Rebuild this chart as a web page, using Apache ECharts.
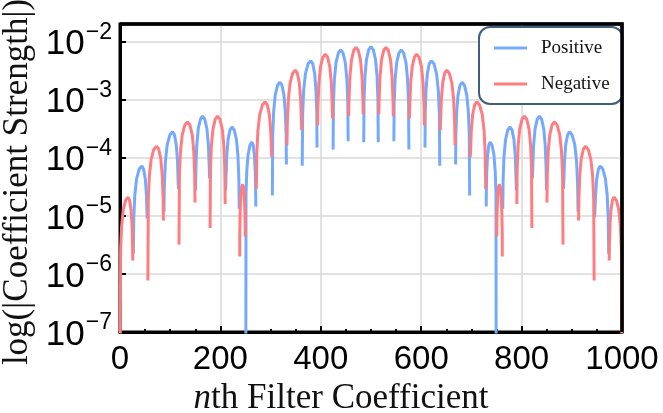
<!DOCTYPE html>
<html><head><meta charset="utf-8">
<script src="https://cdn.jsdelivr.net/npm/echarts@6/dist/echarts.min.js"></script>
<style>html,body{margin:0;padding:0;background:#fff}#c{width:663px;height:413px}</style>
</head><body><div id="c"></div>
<script>
// x ticks and y decade ticks
const xTicks = [0, 200, 400, 600, 800, 1000];
const yTickExponents = [-7, -6, -5, -4, -3, -2];
const seriesNames = ['Positive', 'Negative'];

// each lobe of |h[n]| between two sign changes
const lobeCenter = [16, 43.5, 72.8, 104.7, 134.6, 164.5, 194.4, 223, 244.3, 262.8, 289.3, 318.6, 349.2, 379.9, 409, 439.7, 470.2, 500,
  529.8, 560.3, 591, 620.1, 650.8, 681.4, 710.7, 737.2, 755.7, 777, 805.6, 835.5, 865.4, 895.3, 927.2, 956.5, 984];
const lobePeak = [2.1e-5, 7.2e-5, 1.58e-4, 2.8e-4, 4.15e-4, 5.2e-4, 5.2e-4, 3.4e-4, 3.5e-5, 1.87e-4, 9.2e-4, 2.0e-3, 3.24e-3, 4.7e-3, 6.1e-3, 7.2e-3, 8.0e-3, 8.2e-3,
  8.0e-3, 7.2e-3, 6.1e-3, 4.7e-3, 3.24e-3, 2.0e-3, 9.2e-4, 1.87e-4, 3.5e-5, 3.4e-4, 5.2e-4, 5.2e-4, 4.15e-4, 2.8e-4, 1.58e-4, 7.2e-5, 2.1e-5];
const lobeSign = [-1, 1, -1, 1, -1, 1, -1, 1, -1, 1, -1, 1, -1, 1, -1, 1, -1, 1,
  -1, 1, -1, 1, -1, 1, -1, 1, -1, 1, -1, 1, -1, 1, -1, 1, -1];
// sign-change positions (with the two ends) and the smallest |value| reached there by each sign
const boundaryX = [0, 26, 55, 87, 117, 150, 179, 210, 238, 250, 271, 303, 332, 362.5, 393, 424, 455, 485,
  515, 545, 576, 607, 637.5, 668, 697, 729, 750, 762, 790, 821, 850, 883, 913, 945, 974, 1000];
const dipPos = [null, 2.2e-6, 9.5e-6, 1.16e-5, 2.9e-5, 2.75e-5, 4.4e-5, 2.75e-5, 1.33e-5, 1e-9, 1.45e-5, 2.25e-5, 7.7e-5, 7.3e-5, 1.5e-4, 1.39e-4, 1.93e-4, 1.85e-4,
  1.85e-4, 1.93e-4, 1.39e-4, 1.5e-4, 7.3e-5, 7.7e-5, 2.25e-5, 1.45e-5, 1e-9, 1.33e-5, 2.75e-5, 4.4e-5, 2.75e-5, 2.9e-5, 1.16e-5, 9.5e-6, 2.2e-6, null];
const dipNeg = [1e-9, 1.7e-6, 7.7e-7, 8.3e-6, 3.2e-6, 1.7e-5, 6.2e-6, 1.6e-5, 2.0e-6, 1.16e-5, 2.9e-5, 1.03e-4, 1.64e-4, 3.0e-4, 3.6e-4, 4.75e-4, 5.2e-4, 5.6e-4,
  5.6e-4, 5.2e-4, 4.75e-4, 3.6e-4, 3.0e-4, 1.64e-4, 1.03e-4, 2.9e-5, 1.16e-5, 2.0e-6, 1.6e-5, 6.2e-6, 1.7e-5, 3.2e-6, 8.3e-6, 7.7e-7, 1.7e-6, 1e-9];
// arch shape of one lobe read from the central lobe: [fraction of the way from edge to peak, decades below peak]
const lobeProfile = [[0.08, -0.9], [0.2, -0.5], [0.4, -0.22], [0.7, -0.05]];

function buildSeries(sign) {
  const out = [];
  const dips = sign > 0 ? dipPos : dipNeg;
  for (let i = 0; i < lobeCenter.length; i++) {
    if (lobeSign[i] !== sign) continue;
    const xl = boundaryX[i], xr = boundaryX[i + 1], xc = lobeCenter[i], P = lobePeak[i];
    const last = lobeCenter.length - 1;
    out.push([i === 0 ? xl : xl + 0.5, dips[i]]);
    lobeProfile.forEach(([f, d]) => out.push([xl + f * (xc - xl), P * Math.pow(10, d)]));
    out.push([xc, P]);
    lobeProfile.slice().reverse().forEach(([f, d]) => out.push([xr - f * (xr - xc), P * Math.pow(10, d)]));
    out.push([i === last ? xr : xr - 0.5, dips[i + 1]]);
    out.push([xr, '-']);
  }
  return out;
}

const BLUE = '#74a9ff', RED = '#ff7c80';
const yMin = Math.pow(10, yTickExponents[0]), yMax = 0.0202;
const xMin = xTicks[0], xMax = xTicks[xTicks.length - 1];
const chart = echarts.init(document.getElementById('c'), null, {renderer: 'canvas'});
chart.setOption({
  animation: false,
  backgroundColor: '#fff',
  grid: {left: 120, right: 41, top: 24, bottom: 81, containLabel: false, outerBoundsMode: 'none',
    show: true, borderColor: '#000', borderWidth: 3, backgroundColor: 'transparent'},
  legend: {
    orient: 'vertical', left: 479, top: 27,
    data: seriesNames,
    icon: 'rect', itemWidth: 33, itemHeight: 3, itemGap: 14,
    padding: [10, 13, 9, 15],
    borderColor: '#3f5f80', borderWidth: 2, borderRadius: 11, backgroundColor: '#fff',
    textStyle: {fontFamily: 'Liberation Serif', fontSize: 19, color: '#111', padding: [0, 0, 0, 9], lineHeight: 22}
  },
  xAxis: {
    type: 'value', min: xMin, max: xMax, interval: xTicks[1] - xTicks[0],
    name: '{i|n}th Filter Coefficient', nameLocation: 'middle', nameGap: 47,
    nameTextStyle: {fontFamily: 'Liberation Serif', fontSize: 35, color: '#111', padding: [0, 60, 0, 0],
      rich: {i: {fontFamily: 'Liberation Serif', fontStyle: 'italic', fontSize: 35, color: '#111'}}},
    axisLine: {show: true, lineStyle: {color: '#000', width: 3}},
    axisTick: {show: true, inside: true, length: 6, lineStyle: {color: '#000', width: 2}},
    minorTick: {show: true, splitNumber: 4, length: 3, lineStyle: {color: '#000', width: 2}},
    axisLabel: {fontFamily: 'Liberation Sans', fontSize: 33, color: '#000', margin: 11, formatter: v => String(v)},
    splitLine: {show: true, showMinLine: false, showMaxLine: false, lineStyle: {color: '#d9d9d9', width: 1.5}}
  },
  yAxis: {
    type: 'log', logBase: 10, min: yMin, max: yMax,
    name: 'log(|Coefficient Strength|)', nameLocation: 'middle', nameRotate: 90, nameGap: 68,
    nameTextStyle: {fontFamily: 'Liberation Serif', fontSize: 35, color: '#111', padding: [0, 8, 0, 0]},
    axisLine: {show: true, lineStyle: {color: '#000', width: 3}},
    axisTick: {show: true, inside: true, length: 6, lineStyle: {color: '#000', width: 2}},
    axisLabel: {
      margin: 8, showMaxLabel: false,
      formatter: v => {
        const e = Math.log10(v), r = Math.round(e);
        if (Math.abs(e - r) > 1e-6 || yTickExponents.indexOf(r) < 0) return '';
        return '{b|10}{s|' + (r < 0 ? '\u2212' + (-r) : r) + '}';
      },
      rich: {
        b: {fontFamily: 'Liberation Sans', fontSize: 35, color: '#000', padding: [6, 1, 0, 0], verticalAlign: 'bottom'},
        s: {fontFamily: 'Liberation Sans', fontSize: 23, color: '#000', verticalAlign: 'top'}
      }
    },
    splitLine: {show: true, showMinLine: false, showMaxLine: false, lineStyle: {color: '#d9d9d9', width: 1.5}}
  },
  series: [
    {name: seriesNames[0], type: 'line', data: buildSeries(1), showSymbol: false, connectNulls: false, clip: true,
      lineStyle: {color: BLUE, width: 3}, itemStyle: {color: BLUE}, z: 2},
    {name: seriesNames[1], type: 'line', data: buildSeries(-1), showSymbol: false, connectNulls: false, clip: true,
      lineStyle: {color: RED, width: 3}, itemStyle: {color: RED}, z: 3}
  ]
});
// top and right frame lines, placed through the axes' own scales
const tl = chart.convertToPixel({gridIndex: 0}, [xMin, yMax]);
const tr = chart.convertToPixel({gridIndex: 0}, [xMax, yMax]);
const br = chart.convertToPixel({gridIndex: 0}, [xMax, yMin]);
chart.setOption({
  graphic: [{type: 'polyline', z: 100, silent: true,
    shape: {points: [tl, tr, br]},
    style: {stroke: '#000', lineWidth: 3.5, fill: null}}]
});
</script></body></html>
